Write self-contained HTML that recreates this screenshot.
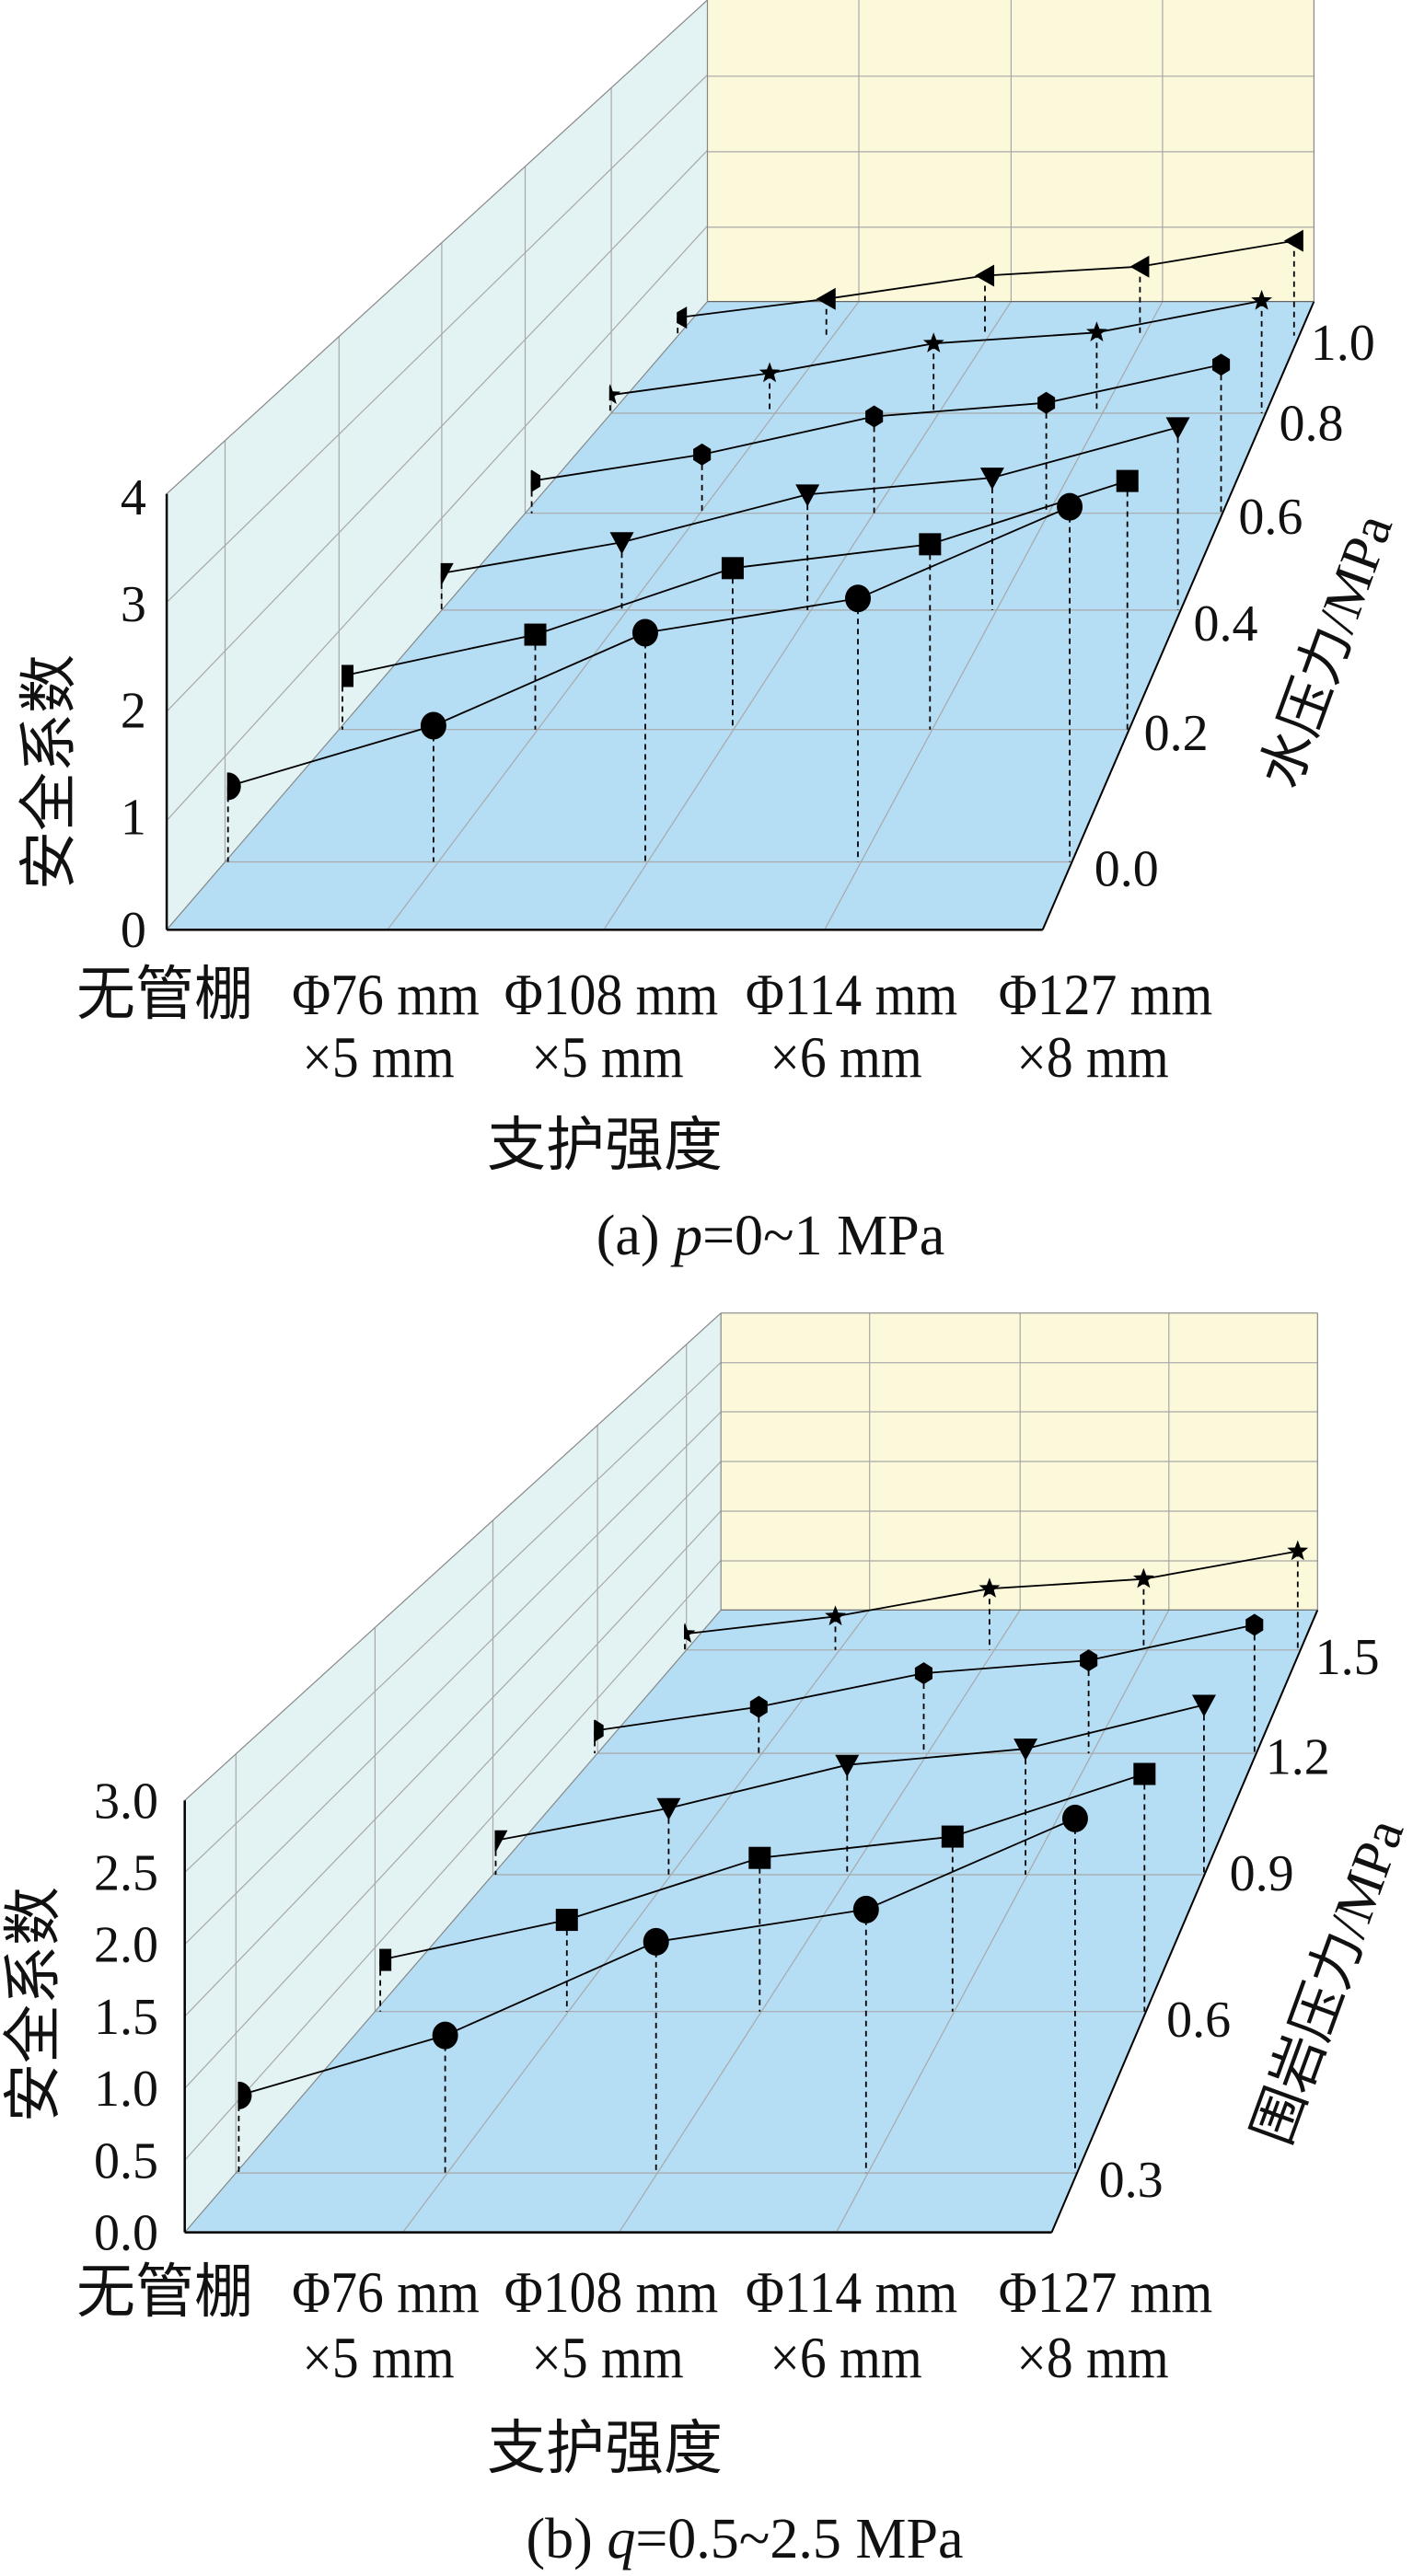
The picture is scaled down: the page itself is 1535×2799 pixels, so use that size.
<!DOCTYPE html>
<html><head><meta charset="utf-8"><style>
html,body{margin:0;padding:0;background:#fff;}
svg{display:block;}
.t{font-family:"Liberation Serif","Noto Sans CJK SC",serif;fill:#111;}
.c{font-family:"Liberation Serif","Noto Sans CJK SC",sans-serif;fill:#111;}
</style></head><body>
<svg id="s" xmlns="http://www.w3.org/2000/svg" width="1535" height="2799" viewBox="0 0 1535 2799"></svg>
<script>
var S=document.getElementById('s');var out='';
var SX=0.979,SY=0.7015;
function P(x,y,o){return [x*SX,y*SY+o];}
function pt(a){return a[0].toFixed(1)+','+a[1].toFixed(1);}
function poly(pts,o,fill,stroke,sw){out+='<polygon points="'+pts.map(function(p){return pt(P(p[0],p[1],o));}).join(' ')+'" fill="'+fill+'" stroke="'+(stroke||'none')+'" stroke-width="'+(sw||0)+'"/>';}
function line(x1,y1,x2,y2,o,st,sw,dash){var a=P(x1,y1,o),b=P(x2,y2,o);out+='<line x1="'+a[0].toFixed(1)+'" y1="'+a[1].toFixed(1)+'" x2="'+b[0].toFixed(1)+'" y2="'+b[1].toFixed(1)+'" stroke="'+st+'" stroke-width="'+sw+'"'+(dash?' stroke-dasharray="'+dash+'"':'')+'/>';}
function text(x,y,s,size,cls,anchor,rot,sx){var tr='';if(rot)tr+='rotate('+rot+' '+x+' '+y+') ';if(sx)tr+='translate('+x+' '+y+') scale('+sx+',1) translate('+(-x)+' '+(-y)+')';out+='<text x="'+x+'" y="'+y+'" font-size="'+size+'" class="'+(cls||'t')+'" text-anchor="'+(anchor||'middle')+'"'+(tr?' transform="'+tr+'"':'')+'>'+s+'</text>';}
var cid=0;
function marker(type,cx,cy,half){
  var s='';
  if(type=='c')s='<ellipse cx="'+cx+'" cy="'+cy+'" rx="14" ry="15"/>';
  else if(type=='s')s='<rect x="'+(cx-12)+'" y="'+(cy-12)+'" width="24" height="24"/>';
  else if(type=='v')s='<polygon points="'+(cx-13)+','+(cy-11)+' '+(cx+13)+','+(cy-11)+' '+cx+','+(cy+13)+'"/>';
  else if(type=='h'){var p=[];for(var i=0;i<6;i++){var a=Math.PI/6+i*Math.PI/3;p.push((cx+11*Math.cos(a)).toFixed(1)+','+(cy+12*Math.sin(a)).toFixed(1));}s='<polygon points="'+p.join(' ')+'"/>';}
  else if(type=='*'){var p=[];for(var i=0;i<10;i++){var r=i%2?5:12;var a=-Math.PI/2+i*Math.PI/5;p.push((cx+r*Math.cos(a)).toFixed(1)+','+(cy+r*Math.sin(a)).toFixed(1));}s='<polygon points="'+p.join(' ')+'"/>';}
  else if(type=='<')s='<polygon points="'+(cx-11)+','+cy+' '+(cx+10)+','+(cy-12)+' '+(cx+10)+','+(cy+12)+'"/>';
  if(half){cid++;out+='<clipPath id="k'+cid+'"><rect x="'+(cx-1)+'" y="'+(cy-20)+'" width="30" height="40"/></clipPath><g clip-path="url(#k'+cid+')" fill="#000">'+s+'</g>';}
  else out+='<g fill="#000">'+s+'</g>';
}
function chart(o,C){
  poly(C.left,o,'#e3f2f3');
  poly(C.back,o,'#fbf9d9');
  poly(C.floor,o,'#b5ddf4');
  var g='#a8a8a8';
  C.backH.forEach(function(y){line(C.back[0][0],y,C.back[2][0],y,o,g,1.2);});
  C.backV.forEach(function(x){line(x,C.back[0][1],x,C.back[3][1],o,g,1.2);});
  C.leftL.forEach(function(l){line(l[0],l[1],l[2],l[3],o,g,1.2);});
  C.depth.forEach(function(d){
    line(d.lx,d.y,d.rx,d.y,o,g,1.2);
    line(d.lx,C.ftop(d.lx),d.lx,d.y,o,g,1.2);
  });
  C.diag.forEach(function(d){line(d[0],C.floor[0][1],d[1],C.floor[2][1],o,g,1.2);});
  line(C.back[0][0],C.back[0][1],C.back[0][0],C.back[3][1],o,'#888',1.2);
  line(C.back[2][0],C.back[1][1],C.back[2][0],C.back[2][1],o,'#888',1.2);
  if(C.topEdge)line(C.back[0][0],C.back[0][1],C.back[2][0],C.back[1][1],o,'#888',1.2);
  line(C.left[1][0],C.left[1][1],C.left[2][0],C.left[2][1],o,'#888',1.2);
  line(C.floor[0][0],C.floor[0][1],C.floor[3][0],C.floor[3][1],o,'#888',1.2);
  line(C.floor[0][0],C.floor[0][1],C.floor[1][0],C.floor[1][1],o,'#000',2.5);
  line(C.floor[1][0],C.floor[1][1],C.floor[2][0],C.floor[2][1],o,'#000',2);
  line(C.floor[0][0],C.floor[0][1],C.floor[0][0],C.left[1][1],o,'#000',2.5);
  line(C.back[3][0],C.back[3][1],C.back[2][0],C.back[2][1],o,'#666',1.2);
  C.series.forEach(function(sr){
    var pts=sr.p;
    pts.forEach(function(p){line(p[0],p[1],p[0],sr.d,o,'#000',1.8,'6,5');});
    out+='<polyline fill="none" stroke="#000" stroke-width="1.8" points="'+pts.map(function(p){return pt(P(p[0],p[1],o));}).join(' ')+'"/>';
    pts.forEach(function(p,i){var a=P(p[0],p[1],o);marker(sr.t,a[0],a[1],i==0);});
  });
}
var A={
 left:[[185,1440],[185,765],[785,0],[785,467]],
 back:[[785,0],[1458,0],[1458,467],[785,467]],
 floor:[[185,1440],[1157,1440],[1458,467],[785,467]],
 backH:[118,235,352],backV:[953,1122,1290],
 leftL:[1,2,3].map(function(v){return [185,1440-169*v,785,467-117*v];}),
 ftop:function(x){return 765-(x-185)*765/600;},
 depth:[1335,1130,945,795,640].map(function(y){return {y:y,lx:185+600*(1440-y)/973,rx:1157+301*(1440-y)/973};}),
 diag:[[430,953],[670,1122],[915,1290]],
 series:[
  {t:'c',d:1335,p:[[253,1218],[481,1124],[716,980],[952,927],[1187,785]]},
  {t:'s',d:1130,p:[[380,1047],[594,983],[813,880],[1032,843],[1251,745]]},
  {t:'v',d:945,p:[[490,888],[690,840],[896,766],[1101,740],[1307,662]]},
  {t:'h',d:795,p:[[590,745],[779,704],[970,645],[1161,624],[1355,565]]},
  {t:'*',d:640,p:[[677,612],[854,578],[1036,532],[1217,515],[1400,466]]},
  {t:'<',d:520,p:[[752,492],[917,463],[1093,427],[1265,413],[1436,373]]}
 ]};
chart(0,A);
var B={
 left:[[205,1462],[205,793],[800,38],[800,498]],
 back:[[800,38],[1462,38],[1462,498],[800,498]],
 floor:[[205,1462],[1167,1462],[1462,498],[800,498]],
 backH:[115,191,268,345,422],backV:[965,1132,1297],topEdge:true,
 leftL:[1,2,3,4,5].map(function(v){return [205,1462-111.5*v,800,498-76.7*v];}),
 ftop:function(x){return 793-(x-205)*755/595;},
 depth:[1370,1120,908,720,560].map(function(y){return {y:y,lx:205+595*(1462-y)/964,rx:1167+295*(1462-y)/964};}),
 diag:[[447,965],[687,1132],[928,1297]],
 series:[
  {t:'c',d:1370,p:[[265,1250],[494,1157],[728,1012],[961,962],[1193,821]]},
  {t:'s',d:1120,p:[[422,1040],[629,978],[843,882],[1057,849],[1270,752]]},
  {t:'v',d:908,p:[[550,855],[742,805],[940,738],[1138,713],[1336,645]]},
  {t:'h',d:720,p:[[660,685],[842,648],[1025,596],[1208,576],[1392,521]]},
  {t:'*',d:560,p:[[760,535],[927,508],[1098,465],[1269,450],[1440,407]]}
 ]};
chart(1400,B);
var TS=56;
[[0,1440],[1,1265],[2,1100],[3,935],[4,770]].forEach(function(t){var a=P(148,t[1],0);text(a[0],a[1]+19,t[0],TS);});
[['0.0',1250,1345],['0.2',1305,1135],['0.4',1360,965],['0.6',1410,800],['0.8',1455,655],['1.0',1490,530]].forEach(function(t){var a=P(t[1],t[2],0);text(a[0],a[1]+19,t[0],TS);});
text(75,839,'安全系数',64,'c','middle',-90);
text(1460,714,'水压力/MPa',60,'c','middle',-70);
['0.0','0.5','1.0','1.5','2.0','2.5','3.0'].forEach(function(s,i){var a=P(140,1462-111.5*i,1400);text(a[0],a[1]+19,s,TS);});
[['0.3',1255,1380],['0.6',1330,1132],['0.9',1400,905],['1.2',1440,725],['1.5',1495,570]].forEach(function(t){var a=P(t[1],t[2],1400);text(a[0],a[1]+19,t[0],TS);});
text(58,2178,'安全系数',64,'c','middle',-90);
text(1462,2160,'围岩压力/MPa',60,'c','middle',-70);
function cats(r1,r2,tt){
  text(179,r1,'无管棚',64,'c');
  [['Φ76 mm',419],['Φ108 mm',664],['Φ114 mm',925],['Φ127 mm',1201]].forEach(function(c){text(c[1],r1,c[0],64,'t','middle',0,0.9);});
  [['×5 mm',411],['×5 mm',660],['×6 mm',919],['×8 mm',1187]].forEach(function(c){text(c[1],r2,c[0],64,'t','middle',0,0.9);});
  text(657,tt,'支护强度',64,'c');
}
cats(1102,1170,1266);
cats(2512,2583,2682);
out+='<text x="837" y="1363" font-size="62" class="t" text-anchor="middle">(a) <tspan font-style="italic">p</tspan>=0~1 MPa</text>';
out+='<text x="809" y="2779" font-size="62" class="t" text-anchor="middle">(b) <tspan font-style="italic">q</tspan>=0.5~2.5 MPa</text>';
S.innerHTML=out;
</script>
</body></html>
